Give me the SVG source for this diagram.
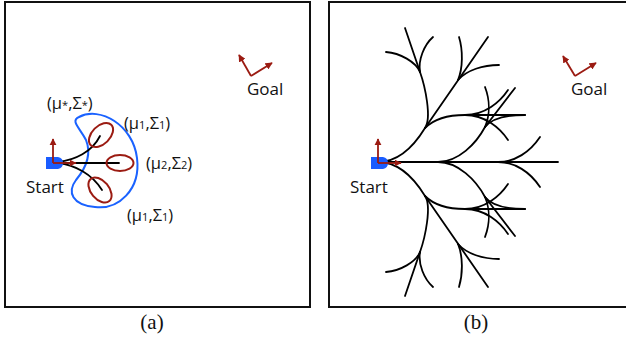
<svg xmlns="http://www.w3.org/2000/svg" width="626" height="337" viewBox="0 0 626 337">
<defs>
<style>
.frame{fill:none;stroke:#111;stroke-width:2}
.blk{fill:none;stroke:#000;stroke-width:1.8;stroke-linecap:round}
.red{fill:none;stroke:#9b1b12;stroke-width:1.8}
.ell{fill:none;stroke:#9b1b12;stroke-width:2}
.kid{fill:none;stroke:#1a62ff;stroke-width:2}
.base{fill:#1a5cff}
.lbl{font-family:"Open Sans","Liberation Sans",sans-serif;font-size:17px;fill:#111}
.mu{font-family:"Open Sans","Liberation Sans",sans-serif;font-size:16.5px;fill:#111}
.sub{font-size:11px}
.cap{font-family:"Liberation Serif","Times New Roman",serif;font-size:21px;fill:#111;text-anchor:middle}
</style>
<marker id="ah" viewBox="0 0 10 10" refX="9" refY="5" markerWidth="4" markerHeight="4" orient="auto" markerUnits="strokeWidth">
<path d="M0,0 L10,5 L0,10 z" fill="#9b1b12"/>
</marker>
</defs>
<rect width="626" height="337" fill="#fff"/>

<g id="panel-a">
<rect class="frame" x="5" y="2" width="305" height="305"/>
<g id="kidney"><path class="kid" d="M79,117 C100,106 133,125 137,158 C141,190 118,210 95,207 C72,205 67,192 76,180 C86,168 92,155 86,140 C80,128 70,121 79,117 Z"/></g>
<g id="connectors-a">
<path class="blk" d="M58,162 C75,160 92,152 100,136"/>
<path class="blk" d="M58,163 H119"/>
<path class="blk" d="M58,163 C75,165 92,174 102,190"/>
</g>
<g id="ellipses">
<ellipse class="ell" cx="101" cy="135" rx="14.5" ry="9" transform="rotate(-45 101 135)"/>
<ellipse class="ell" cx="120" cy="163" rx="13.5" ry="8"/>
<ellipse class="ell" cx="100" cy="190" rx="14.5" ry="9" transform="rotate(50 100 190)"/>
</g>
<g id="start-a">
<path class="base" d="M46,157 H58 Q63,158 63,163 Q63,168 58,169 H46 Z"/>
<path class="red" d="M53,163 V139" marker-end="url(#ah)"/>
<path class="red" d="M53,163 H76" marker-end="url(#ah)"/>
<text class="lbl" x="26" y="193">Start</text>
</g>
<g id="goal-a">
<path class="red" d="M251,76 L239,55" marker-end="url(#ah)"/>
<path class="red" d="M251,76 L272,63" marker-end="url(#ah)"/>
<text class="lbl" x="247" y="95">Goal</text>
</g>
<g id="labels-a">
<text class="mu" x="47" y="109">(μ<tspan class="sub">*</tspan>,Σ<tspan class="sub">*</tspan>)</text>
<text class="mu" x="124" y="129">(μ<tspan class="sub">1</tspan>,Σ<tspan class="sub">1</tspan>)</text>
<text class="mu" x="146" y="169">(μ<tspan class="sub">2</tspan>,Σ<tspan class="sub">2</tspan>)</text>
<text class="mu" x="127" y="221">(μ<tspan class="sub">1</tspan>,Σ<tspan class="sub">1</tspan>)</text>
</g>
<text class="cap" x="152" y="329">(a)</text>
</g>

<g id="panel-b">
<rect class="frame" x="329" y="2" width="300" height="305"/>
<g id="tree">
<path class="blk" d="M378,162 H558"/>
<g id="tree-up">
<path class="blk" d="M378,162 C398,162 414,146 425,128"/>
<path class="blk" d="M425,128 L488,37"/>
<path class="blk" d="M425,128 C432,118 425,86 420,72"/>
<path class="blk" d="M420,72 L405,28"/>
<path class="blk" d="M420,72 C416,62 400,53 386,52"/>
<path class="blk" d="M420,72 C418,60 424,45 433,37"/>
<path class="blk" d="M458,80 C463,68 463,50 459,37"/>
<path class="blk" d="M458,80 C467,70 483,65 499,65"/>
<path class="blk" d="M425,128 C435,118 450,115 465,115"/>
<path class="blk" d="M465,115 H525"/>
<path class="blk" d="M465,115 C485,115 500,128 508,140"/>
<path class="blk" d="M465,115 C485,115 500,102 508,90"/>
<path class="blk" d="M438,162 C458,162 476,144 485,127"/>
<path class="blk" d="M485,127 L515,88"/>
<path class="blk" d="M485,127 C490,115 490,100 485,87"/>
<path class="blk" d="M485,127 C492,118 508,115 525,115"/>
<path class="blk" d="M498,162 C515,162 530,152 540,137"/>
</g>
<use href="#tree-up" transform="translate(0,324) scale(1,-1)"/>
</g>
<g id="start-b">
<path class="base" d="M371,157 H383 Q388,158 388,163 Q388,168 383,169 H371 Z"/>
<path class="red" d="M378,163 V139" marker-end="url(#ah)"/>
<path class="red" d="M378,163 H401" marker-end="url(#ah)"/>
<text class="lbl" x="350" y="193">Start</text>
</g>
<g id="goal-b">
<path class="red" d="M575,76 L563,56" marker-end="url(#ah)"/>
<path class="red" d="M575,76 L596,63" marker-end="url(#ah)"/>
<text class="lbl" x="571" y="95">Goal</text>
</g>
<text class="cap" x="476" y="329">(b)</text>
</g>
</svg>
